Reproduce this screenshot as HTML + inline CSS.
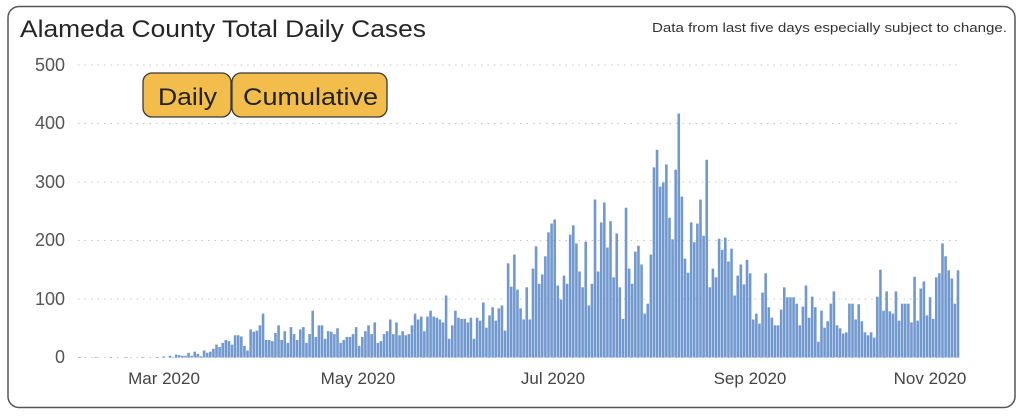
<!DOCTYPE html>
<html><head><meta charset="utf-8"><style>
html,body{margin:0;padding:0;background:#fff;width:1024px;height:418px;overflow:hidden}
svg{display:block}
</style></head><body>
<svg id="s" width="1024" height="418" xmlns="http://www.w3.org/2000/svg" font-family="'Liberation Sans',sans-serif">
<rect x="8" y="6.5" width="1007" height="401" rx="11" fill="#fff" stroke="#555" stroke-width="1.5"/>
<text x="20" y="37" font-size="24" fill="#252525" textLength="406" lengthAdjust="spacingAndGlyphs">Alameda County Total Daily Cases</text>
<text x="652" y="32" font-size="13" fill="#333" textLength="355" lengthAdjust="spacingAndGlyphs">Data from last five days especially subject to change.</text>
<g font-size="18" fill="#555" text-anchor="end">
<text x="65" y="71">500</text><text x="65" y="129">400</text><text x="65" y="188">300</text>
<text x="65" y="246">200</text><text x="65" y="305">100</text><text x="65" y="363">0</text>
</g>
<g stroke="#c8c8c8" stroke-width="1" stroke-dasharray="1.5,5">
<line x1="78" y1="65" x2="962" y2="65"/><line x1="78" y1="123.5" x2="962" y2="123.5"/>
<line x1="78" y1="182" x2="962" y2="182"/><line x1="78" y1="240.5" x2="962" y2="240.5"/>
<line x1="78" y1="299" x2="962" y2="299"/><line x1="78" y1="357.5" x2="962" y2="357.5"/>
</g>
<g id="bars" fill="#7299cf"></g>
<g font-size="17" fill="#444" text-anchor="middle">
<text x="164" y="384">Mar 2020</text><text x="358" y="384">May 2020</text>
<text x="553" y="384">Jul 2020</text><text x="750" y="384">Sep 2020</text><text x="930" y="384">Nov 2020</text>
</g>
<rect x="143" y="73" width="88" height="44" rx="9" fill="#f2bd4a" stroke="#3a3a3a" stroke-width="1.3"/>
<rect x="232" y="73" width="155" height="44" rx="9" fill="#f2bd4a" stroke="#3a3a3a" stroke-width="1.3"/>
<text x="158" y="105" font-size="24" fill="#222" textLength="59" lengthAdjust="spacingAndGlyphs">Daily</text>
<text x="243" y="105" font-size="24" fill="#222" textLength="135" lengthAdjust="spacingAndGlyphs">Cumulative</text>
</svg>
<script>
var d=[];
for(var i=0;i<27;i++)d.push(i%5==0?1:0);
d=d.concat([2,0,3,1,5,4,3,3,8,3,10,6,2,12,8,
10,15,22,18,25,30,28,22,38,38,36,20,12,48,44,46,55,
75,30,30,28,42,55,30,45,25,52,40,30,48,52,25,40,80,35,55,55,32,45,44,40,50,25,30,35,
35,40,52,20,35,45,55,40,60,25,28,40,45,65,40,60,38,45,38,40,55,75,65,70,45,70,80,70,68,65,60,
106,32,55,80,68,66,66,60,68,32,68,63,94,51,72,86,63,84,89,46,161,121,176,116,84,65,120,65,152,190,126,142,173,214,229,236,123,99,140,126,210,226,195,147,120,198,89,126,270,147,231,265,188,233,137,212,120,66,256,152,126,181,191,159,75,92,176,325,355,292,299,330,239,202,321,417,
275,169,145,231,197,229,270,208,338,
120,152,137,203,184,205,164,186,106,140,159,125,167,144,65,75,58,111,144,86,68,55,55,82,120,103,103,103,92,55,87,123,68,104,86,27,80,51,62,92,113,55,50,41,43,92,92,65,91,62,43,38,43,34,104,150,80,113,79,75,113,63,92,92,92,60,138,63,118,130,72,103,66,137,144,195,173,149,135,92,149]);
var g=document.getElementById('bars'),n=d.length,x0=80,x1=958,p=(x1-x0)/(n-1),h='';
for(var i=0;i<n;i++){var v=d[i];if(v<=0)continue;var hh=v*0.585;h+='<rect x="'+(x0+i*p-1.3).toFixed(2)+'" y="'+(357.5-hh).toFixed(2)+'" width="2.6" height="'+hh.toFixed(2)+'"/>';}
g.innerHTML=h;
</script>
</body></html>
